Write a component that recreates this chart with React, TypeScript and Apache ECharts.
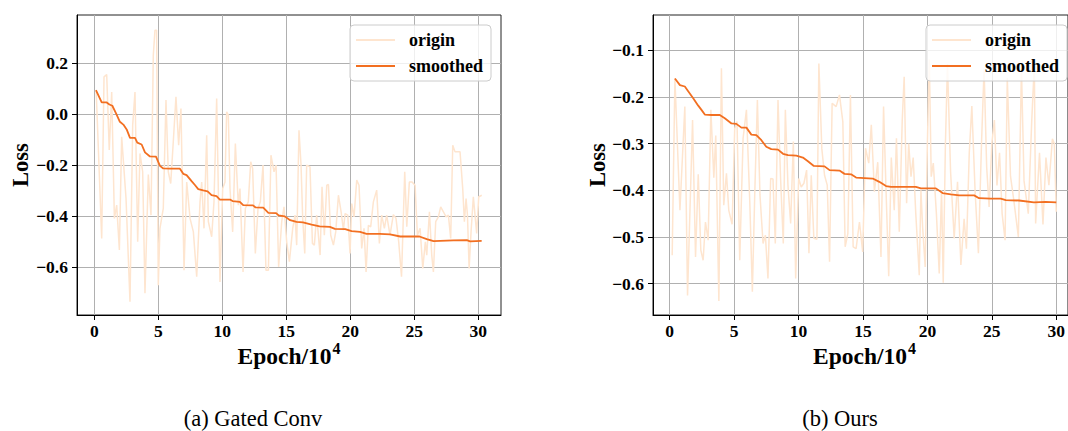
import React, { useEffect, useRef } from "react";
import * as echarts from "echarts";

// ---------- DATA ----------
const xTicks = [0, 5, 10, 15, 20, 25, 30];
const leftYTicks = [-0.6, -0.4, -0.2, 0.0, 0.2];
const rightYTicks = [-0.6, -0.5, -0.4, -0.3, -0.2, -0.1];
const seriesNames = ["origin", "smoothed"];
const captions = ["(a) Gated Conv", "(b) Ours"];
const xLabelMain = "Epoch/10";
const xLabelSup = "4";
const yLabel = "Loss";

// Left (Gated Conv) - origin
const leftOriginX = [
  0.15, 0.58, 0.76, 0.97, 1.17, 1.36, 1.57, 1.75, 1.96, 2.14, 2.48, 2.79, 3.0, 3.18, 3.39, 3.57, 3.78, 3.96,
  4.22, 4.43, 4.61, 4.74, 4.87, 5.0, 5.13, 5.39, 5.6, 5.78, 5.97, 6.17, 6.38, 6.59, 6.77, 7.01, 7.22, 7.48,
  7.74, 8.0, 8.26, 8.39, 8.57, 8.78, 8.91, 9.17, 9.35, 9.56, 9.82, 10.03, 10.21, 10.34, 10.47, 10.6, 10.81,
  11.02, 11.25, 11.38, 11.62, 11.8, 12.03, 12.22, 12.37, 12.58, 12.79, 12.97, 13.18, 13.41, 13.6, 13.8,
  14.04, 14.2, 14.4, 14.64, 14.82, 15.03, 15.24, 15.5, 15.68, 15.81, 15.99, 16.15, 16.28, 16.44, 16.59,
  16.85, 17.04, 17.19, 17.37, 17.64, 17.79, 17.97, 18.16, 18.29, 18.47, 18.68, 18.86, 19.07, 19.28, 19.46,
  19.59, 19.8, 19.98, 20.11, 20.29, 20.5, 20.68, 20.89, 21.07, 21.23, 21.41, 21.59, 21.8, 22.06, 22.27,
  22.45, 22.66, 22.84, 23.1, 23.36, 23.57, 23.78, 24.0, 24.25, 24.41, 24.61, 24.82, 25.06, 25.24, 25.45,
  25.66, 25.86, 25.97, 26.18, 26.36, 26.49, 26.67, 26.88, 27.06, 27.27, 27.48, 27.66, 27.84, 28.0, 28.18,
  28.57, 28.78, 28.91, 29.04, 29.15, 29.28, 29.43, 29.61, 29.74, 29.87, 30.03, 30.27,
];
const leftOriginY = [
  0.09, -0.488, 0.146, 0.155, -0.141, 0.087, -0.409, -0.357, -0.533, -0.089, -0.331, -0.736, -0.043, 0.087,
  -0.501, -0.154, -0.226, -0.703, -0.237, -0.396, 0.231, 0.329, 0.329, -0.671, -0.448, -0.37, 0.055, -0.226,
  -0.272, -0.109, 0.068, -0.122, 0.022, -0.612, -0.266, -0.409, -0.462, -0.638, -0.344, -0.266, -0.448,
  -0.083, -0.422, -0.481, -0.344, 0.061, -0.658, -0.292, -0.266, 0.009, -0.004, -0.292, -0.462, -0.115,
  -0.357, -0.292, -0.619, -0.37, -0.344, -0.187, -0.213, -0.547, -0.37, -0.344, -0.2, -0.612, -0.612,
  -0.161, -0.226, -0.2, -0.599, -0.422, -0.364, -0.501, -0.579, -0.448, -0.396, -0.514, -0.063, -0.2,
  -0.409, -0.547, -0.2, -0.207, -0.507, -0.514, -0.396, -0.553, -0.285, -0.475, -0.279, -0.276, -0.475,
  -0.514, -0.462, -0.318, -0.383, -0.455, -0.39, -0.396, -0.547, -0.351, -0.403, -0.259, -0.279, -0.527,
  -0.448, -0.619, -0.436, -0.442, -0.344, -0.298, -0.507, -0.396, -0.448, -0.396, -0.475, -0.394, -0.409,
  -0.501, -0.638, -0.226, -0.442, -0.266, -0.266, -0.279, -0.475, -0.448, -0.605, -0.501, -0.553, -0.383,
  -0.553, -0.619, -0.422, -0.403, -0.364, -0.383, -0.403, -0.396, -0.488, -0.122, -0.148, -0.148, -0.292,
  -0.422, -0.331, -0.396, -0.605, -0.462, -0.324, -0.396, -0.468, -0.324, -0.318,
];

// Left - smoothed
const leftSmoothX = [
  0.13, 0.58, 0.97, 1.18, 1.41, 1.7, 2.0, 2.27, 2.53, 2.79, 3.18, 3.36, 3.7, 3.96, 4.35, 4.82, 5.13, 5.39,
  5.91, 6.69, 6.95, 7.21, 7.6, 7.86, 8.12, 8.51, 8.85, 9.16, 9.55, 9.81, 10.6, 10.8, 11.37, 11.63, 12.4,
  12.6, 13.2, 13.6, 14.2, 14.4, 14.88, 15.3, 15.8, 16.3, 16.98, 17.6, 18.4, 18.8, 19.6, 20.1, 20.76, 21.27,
  22.3, 23.1, 23.9, 25.4, 25.97, 26.5, 28.05, 29.1, 29.35, 30.26,
];
const leftSmoothY = [
  0.094, 0.046, 0.046, 0.038, 0.033, 0.003, -0.03, -0.041, -0.06, -0.093, -0.093, -0.112, -0.119, -0.15,
  -0.166, -0.167, -0.203, -0.213, -0.214, -0.214, -0.234, -0.239, -0.263, -0.278, -0.294, -0.299, -0.303,
  -0.318, -0.322, -0.335, -0.335, -0.341, -0.344, -0.357, -0.358, -0.366, -0.367, -0.387, -0.388, -0.397,
  -0.401, -0.416, -0.423, -0.425, -0.433, -0.44, -0.442, -0.45, -0.451, -0.459, -0.462, -0.47, -0.47,
  -0.472, -0.48, -0.48, -0.49, -0.498, -0.495, -0.494, -0.499, -0.497,
];

// Right (Ours) - origin
const rightOriginX = [
  0.2, 0.41, 0.8, 1.18, 1.39, 1.78, 2.01, 2.22, 2.42, 2.6, 2.78, 2.99, 3.2, 3.43, 3.58, 3.82, 4.02, 4.2,
  4.41, 4.59, 4.85, 5.05, 5.23, 5.44, 5.7, 5.96, 6.22, 6.42, 6.6, 6.81, 7.01, 7.25, 7.43, 7.63, 7.84, 8.02,
  8.2, 8.41, 8.61, 8.82, 8.98, 9.18, 9.39, 9.6, 9.78, 10.01, 10.21, 10.42, 10.63, 10.81, 10.99, 11.19,
  11.43, 11.58, 11.81, 12.02, 12.23, 12.41, 12.61, 12.92, 13.18, 13.44, 13.62, 13.83, 14.03, 14.24, 14.47,
  14.73, 14.98, 15.2, 15.45, 15.65, 15.89, 16.15, 16.4, 16.6, 16.8, 17.0, 17.2, 17.43, 17.6, 17.82, 18.05,
  18.2, 18.39, 18.55, 18.73, 18.9, 19.1, 19.37, 19.5, 19.63, 19.83, 20.0, 20.15, 20.3, 20.46, 20.7, 20.92,
  21.1, 21.23, 21.4, 21.56, 21.8, 22.08, 22.34, 22.6, 22.85, 23.03, 23.25, 23.45, 23.7, 23.96, 24.2, 24.4,
  24.6, 24.79, 25.0, 25.2, 25.4, 25.6, 25.8, 26.03, 26.2, 26.45, 26.7, 27.06, 27.3, 27.5, 27.83, 28.1,
  28.3, 28.4, 28.7, 28.97, 29.2, 29.43, 29.7, 29.85, 30.0,
];
const rightOriginY = [
  -0.539, -0.161, -0.443, -0.221, -0.625, -0.25, -0.543, -0.366, -0.528, -0.55, -0.468, -0.507, -0.228,
  -0.373, -0.283, -0.637, -0.139, -0.432, -0.364, -0.443, -0.473, -0.268, -0.253, -0.55, -0.289, -0.228,
  -0.425, -0.617, -0.414, -0.207, -0.41, -0.514, -0.496, -0.589, -0.375, -0.376, -0.514, -0.207, -0.375,
  -0.514, -0.228, -0.389, -0.471, -0.296, -0.589, -0.375, -0.393, -0.385, -0.357, -0.535, -0.368, -0.503,
  -0.505, -0.129, -0.311, -0.368, -0.389, -0.553, -0.214, -0.221, -0.196, -0.253, -0.521, -0.493, -0.196,
  -0.521, -0.525, -0.468, -0.532, -0.31, -0.342, -0.26, -0.403, -0.34, -0.543, -0.221, -0.407, -0.584,
  -0.33, -0.443, -0.289, -0.489, -0.25, -0.157, -0.428, -0.3, -0.371, -0.33, -0.45, -0.582, -0.4, -0.478,
  -0.564, -0.3, -0.12, -0.371, -0.342, -0.45, -0.578, -0.4, -0.598, -0.3, -0.13, -0.36, -0.503, -0.382,
  -0.56, -0.461, -0.525, -0.32, -0.22, -0.4, -0.535, -0.3, -0.14, -0.35, -0.436, -0.3, -0.25, -0.39, -0.32,
  -0.45, -0.507, -0.16, -0.37, -0.42, -0.5, -0.14, -0.38, -0.45, -0.25, -0.13, -0.471, -0.32, -0.473,
  -0.33, -0.389, -0.29, -0.3, -0.446,
];

// Right - smoothed
const rightSmoothX = [
  0.41, 0.8, 1.18, 1.44, 1.83, 2.22, 2.47, 2.73, 3.25, 3.89, 4.28, 4.8, 5.18, 5.57, 5.96, 6.34, 6.73, 7.12,
  7.5, 7.89, 8.41, 8.8, 9.18, 9.83, 10.34, 10.73, 11.19, 12.02, 12.41, 13.18, 13.57, 14.08, 14.47, 15.76,
  16.27, 16.79, 17.18, 17.82, 19.11, 19.5, 20.66, 21.18, 21.82, 22.47, 23.63, 24.01, 24.92, 25.69, 26.08,
  27.11, 28.27, 29.17, 30.0,
];
const rightSmoothY = [
  -0.161, -0.175, -0.178, -0.188, -0.203, -0.219, -0.228, -0.238, -0.239, -0.239, -0.246, -0.257, -0.258,
  -0.266, -0.266, -0.281, -0.282, -0.293, -0.307, -0.312, -0.313, -0.322, -0.325, -0.326, -0.33, -0.338,
  -0.348, -0.349, -0.357, -0.358, -0.365, -0.366, -0.373, -0.375, -0.382, -0.391, -0.393, -0.393, -0.393,
  -0.396, -0.396, -0.406, -0.409, -0.411, -0.411, -0.417, -0.418, -0.418, -0.421, -0.422, -0.426, -0.425,
  -0.426,
];

// ---------- STYLE ----------
const FONT = "Liberation Serif";
const ORIGIN_COLOR = "#fee5cf";
const SMOOTH_COLOR = "#f26f21";

const zip = (xs: number[], ys: number[]) => xs.map((x, i) => [x, ys[i]]);
const isTick = (v: number, ticks: number[]) => ticks.some((t) => Math.abs(t - v) < 1e-6);
const fmtY = (ticks: number[]) => (v: number) => {
  if (!isTick(v, ticks)) return "";
  return Math.abs(v) < 1e-9 ? "0.0" : (v < 0 ? "\u2212" : "") + Math.abs(v).toFixed(1);
};
const fmtX = (v: number) => (isTick(v, xTicks) ? String(Math.round(v)) : "");

function makeX(gridIndex: number, min: number, max: number) {
  return {
    type: "value",
    gridIndex,
    min,
    max,
    splitNumber: 6,
    axisLine: { show: true, onZero: false, lineStyle: { color: "#000", width: 1 } },
    axisTick: { show: true, length: 5, customValues: xTicks, lineStyle: { color: "#000" } },
    axisLabel: {
      customValues: xTicks,
      margin: 7,
      fontFamily: FONT,
      fontWeight: "bold",
      fontSize: 17.5,
      color: "#000",
      formatter: fmtX,
    },
    splitLine: { show: true, lineStyle: { color: "#b0b0b0", width: 1 } },
  };
}

function makeY(gridIndex: number, min: number, max: number, ticks: number[]) {
  return {
    type: "value",
    gridIndex,
    min,
    max,
    splitNumber: 5,
    axisLine: { show: true, onZero: false, lineStyle: { color: "#000", width: 1 } },
    axisTick: { show: true, length: 5, customValues: ticks, lineStyle: { color: "#000" } },
    axisLabel: {
      customValues: ticks,
      margin: 9,
      fontFamily: FONT,
      fontWeight: "bold",
      fontSize: 17.5,
      color: "#000",
      formatter: fmtY(ticks),
    },
    splitLine: { show: true, lineStyle: { color: "#b0b0b0", width: 1 } },
  };
}

function makeLegend(left: number) {
  return {
    left,
    top: 25,
    orient: "vertical",
    data: seriesNames,
    icon: "rect",
    itemWidth: 39,
    itemHeight: 2,
    itemGap: 8,
    padding: [6, 8, 6, 6],
    backgroundColor: "rgba(255,255,255,0.8)",
    borderColor: "#cccccc",
    borderWidth: 1,
    borderRadius: 4,
    selectedMode: false,
    textStyle: {
      fontFamily: FONT,
      fontWeight: "bold",
      fontSize: 18,
      lineHeight: 18,
      color: "#000",
      padding: [0, 0, 0, 9],
    },
  };
}

function lineSeries(name: string, idx: number, data: number[][], color: string, width: number, z: number) {
  return {
    type: "line",
    name,
    xAxisIndex: idx,
    yAxisIndex: idx,
    data,
    symbol: "none",
    showSymbol: false,
    silent: true,
    z,
    lineStyle: { color, width },
    itemStyle: { color },
  };
}

function textEl(x: number, y: number, text: string, opts: any = {}) {
  return {
    type: "text",
    x,
    y,
    rotation: opts.rotation || 0,
    silent: true,
    style: {
      text,
      fontFamily: FONT,
      fontWeight: opts.bold ? "bold" : "normal",
      fontSize: opts.size || 22,
      fill: "#000",
      textAlign: opts.align || "center",
      textVerticalAlign: opts.valign || "middle",
    },
  };
}

export default function App() {
  const ref = useRef<HTMLDivElement>(null);
  useEffect(() => {
    if (!ref.current) return;
    const chart = echarts.init(ref.current, null, { renderer: "svg" });
    const option: any = {
      animation: false,
      backgroundColor: "#ffffff",
      grid: [
        { left: 77, top: 15, width: 424, height: 300, show: true, borderColor: "#222", borderWidth: 1, backgroundColor: "transparent" },
        { left: 653, top: 15, width: 416, height: 300, show: true, borderColor: "#222", borderWidth: 1, backgroundColor: "transparent" },
      ],
      xAxis: [makeX(0, -1.35, 31.77), makeX(1, -1.29, 30.91)],
      yAxis: [makeY(0, -0.788, 0.389, leftYTicks), makeY(1, -0.667, -0.025, rightYTicks)],
      legend: [makeLegend(350), makeLegend(926)],
      series: [
        lineSeries(seriesNames[0], 0, zip(leftOriginX, leftOriginY), ORIGIN_COLOR, 1.5, 2),
        lineSeries(seriesNames[1], 0, zip(leftSmoothX, leftSmoothY), SMOOTH_COLOR, 1.8, 3),
        lineSeries(seriesNames[0], 1, zip(rightOriginX, rightOriginY), ORIGIN_COLOR, 1.5, 2),
        lineSeries(seriesNames[1], 1, zip(rightSmoothX, rightSmoothY), SMOOTH_COLOR, 1.8, 3),
      ],
      graphic: [
        textEl(20, 165, yLabel, { bold: true, rotation: Math.PI / 2, size: 22.5 }),
        textEl(597, 165, yLabel, { bold: true, rotation: Math.PI / 2, size: 22.5 }),
        textEl(331.5, 356, xLabelMain, { bold: true, align: "right", size: 23.5 }),
        textEl(332.5, 348, xLabelSup, { bold: true, align: "left", size: 16 }),
        textEl(907, 356, xLabelMain, { bold: true, align: "right", size: 23.5 }),
        textEl(908, 348, xLabelSup, { bold: true, align: "left", size: 16 }),
        textEl(253, 418, captions[0], { size: 22.5 }),
        textEl(840, 418, captions[1], { size: 22.5 }),
      ],
    };
    chart.setOption(option);
    return () => chart.dispose();
  }, []);
  return (
    <div
      ref={ref}
      style={{ position: "fixed", left: 0, top: 0, width: 1068, height: 431 }}
    />
  );
}
